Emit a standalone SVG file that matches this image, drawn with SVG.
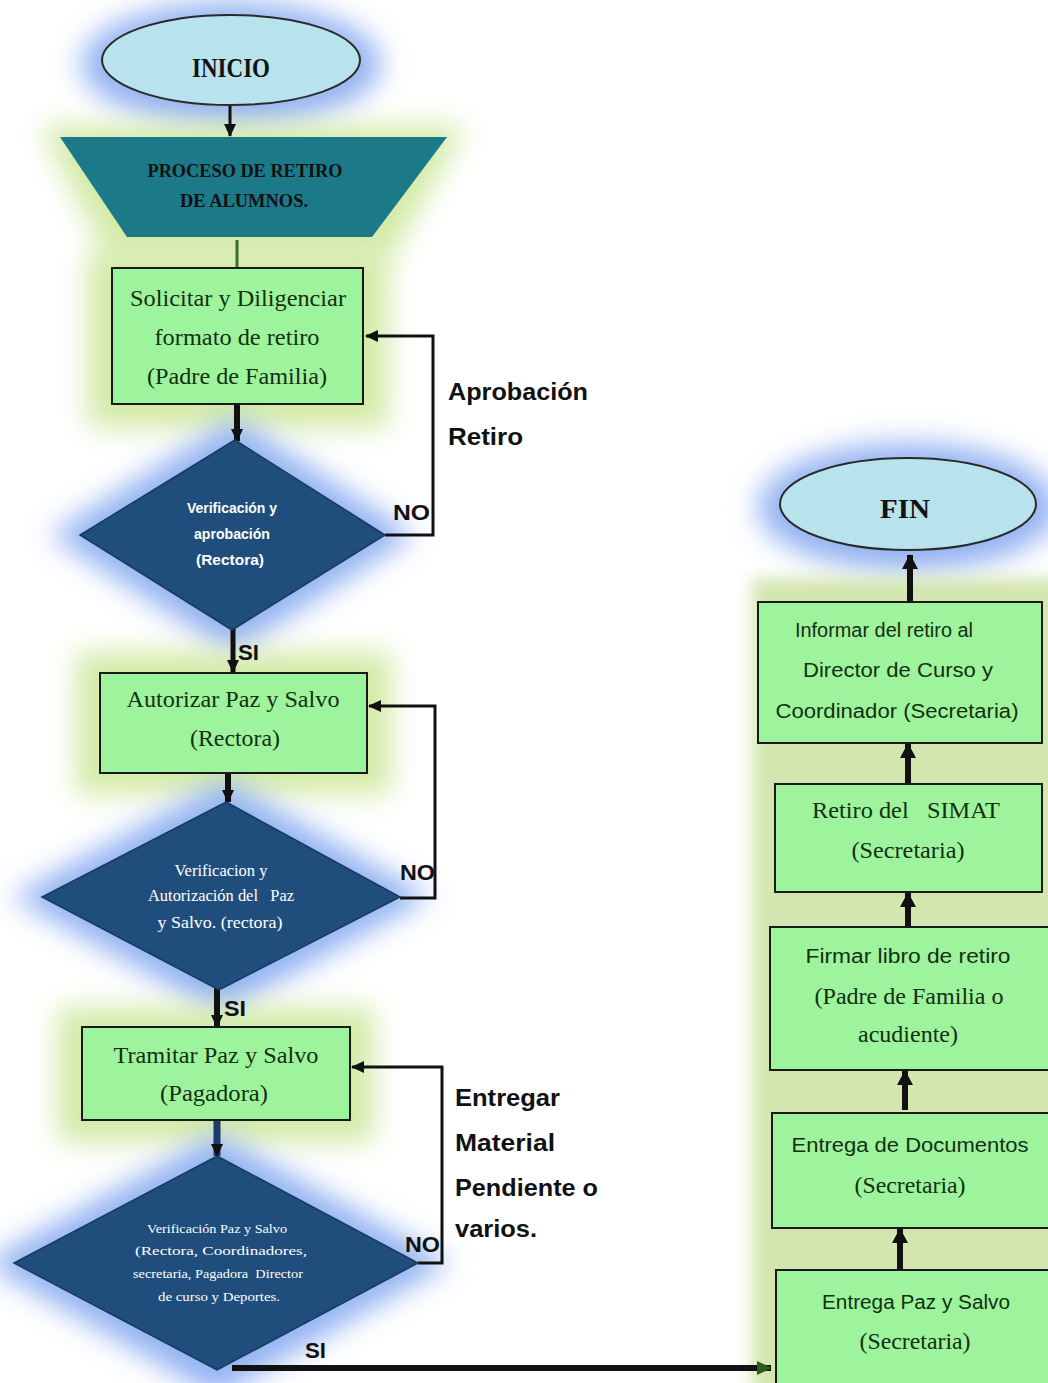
<svg xmlns="http://www.w3.org/2000/svg" width="1048" height="1383" viewBox="0 0 1048 1383">
<defs>
<filter id="blur" x="-50%" y="-50%" width="200%" height="200%"><feGaussianBlur stdDeviation="14"/></filter>
<filter id="blurS" x="-20%" y="-20%" width="140%" height="140%"><feGaussianBlur stdDeviation="8"/></filter>
<marker id="ah" markerUnits="userSpaceOnUse" markerWidth="14" markerHeight="14" refX="12" refY="7" orient="auto"><path d="M0,1 L13,7 L0,13 z" fill="#111"/></marker>
<marker id="ahb" markerUnits="userSpaceOnUse" markerWidth="18" markerHeight="18" refX="14" refY="9" orient="auto"><path d="M0,1 L15,9 L0,17 z" fill="#111"/></marker>
<marker id="ahg" markerUnits="userSpaceOnUse" markerWidth="18" markerHeight="18" refX="14" refY="9" orient="auto"><path d="M0,2 L15,9 L0,16 z" fill="#2f5a1c"/></marker>
</defs>
<style>
.gg{fill:#d2eaa6;filter:url(#blur)}
.bg{fill:#93b2f2;filter:url(#blur)}
.box{fill:#9ef49c;stroke:#1a1a1a;stroke-width:2}
.dia{fill:#1f4e7d;stroke:#173a5e;stroke-width:1.5}
.ell{fill:#b9e3ec;stroke:#2a2a2a;stroke-width:2}
.ts{font-family:"Liberation Serif",serif;font-size:23px;fill:#12300f;text-anchor:middle}
.tc{font-family:"Liberation Sans",sans-serif;font-size:20px;fill:#12300f;text-anchor:middle}
.dw{font-family:"Liberation Sans",sans-serif;font-weight:bold;font-size:14px;fill:#ffffff;text-anchor:middle}
.dsf{font-family:"Liberation Serif",serif;fill:#ffffff;text-anchor:middle}
.lbl{font-family:"Liberation Sans",sans-serif;font-weight:bold;font-size:23px;fill:#111}
.yn{font-family:"Liberation Sans",sans-serif;font-weight:bold;font-size:22px;fill:#111}
.ttl{font-family:"Liberation Serif",serif;font-weight:bold;fill:#111;text-anchor:middle}
.c{fill:none;stroke:#111}
</style>
<rect width="1048" height="1383" fill="#ffffff"/>
<g id="glows">
<ellipse cx="231" cy="64" rx="150" ry="62" class="bg"/>
<polygon points="40,126 466,126 390,258 108,258" class="gg"/>
<rect x="88" y="250" width="300" height="178" class="gg"/>
<polygon points="235,418 414,535 232,654 50,535" class="bg"/>
<rect x="76" y="652" width="315" height="142" class="gg"/>
<polygon points="225,780 430,897 220,1014 12,897" class="bg"/>
<rect x="58" y="1008" width="316" height="134" class="gg"/>
<polygon points="217,1134 450,1263 217,1397 -16,1263" class="bg"/>
<ellipse cx="908" cy="507" rx="150" ry="64" class="bg"/>
<rect x="752" y="578" width="320" height="830" fill="#d3e6b0" filter="url(#blurS)"/>
</g>
<g id="connectors">
<line x1="230" y1="104" x2="230" y2="136" class="c" stroke-width="3" marker-end="url(#ah)"/>
<line x1="237" y1="240" x2="237" y2="268" stroke="#3b6e2a" stroke-width="3"/>
<line x1="237" y1="404" x2="237" y2="441" class="c" stroke-width="6" marker-end="url(#ah)"/>
<polyline points="385,535 433,535 433,336 366,336" class="c" stroke-width="3" marker-end="url(#ah)"/>
<line x1="233" y1="628" x2="233" y2="672" class="c" stroke-width="5" marker-end="url(#ah)"/>
<line x1="228" y1="773" x2="228" y2="802" class="c" stroke-width="6" marker-end="url(#ah)"/>
<polyline points="400,898 435,898 435,706 369,706" class="c" stroke-width="3" marker-end="url(#ah)"/>
<line x1="217" y1="988" x2="217" y2="1027" class="c" stroke-width="6" marker-end="url(#ah)"/>
<line x1="217" y1="1120" x2="217" y2="1156" stroke="#1f3a66" stroke-width="7" fill="none" marker-end="url(#ah)"/>
<polyline points="418,1263 442,1263 442,1067 352,1067" class="c" stroke-width="3" marker-end="url(#ah)"/>
<line x1="232" y1="1368" x2="771" y2="1368" class="c" stroke-width="6" marker-end="url(#ahg)"/>
<line x1="900" y1="1270" x2="900" y2="1229" class="c" stroke-width="6" marker-end="url(#ahb)"/>
<line x1="905" y1="1110" x2="905" y2="1071" class="c" stroke-width="6" marker-end="url(#ahb)"/>
<line x1="908" y1="927" x2="908" y2="893" class="c" stroke-width="6" marker-end="url(#ahb)"/>
<line x1="908" y1="784" x2="908" y2="744" class="c" stroke-width="6" marker-end="url(#ahb)"/>
<line x1="910" y1="601" x2="910" y2="555" class="c" stroke-width="6" marker-end="url(#ahb)"/>
</g>
<g id="labels">
<text class="lbl" x="448" y="400" textLength="140" lengthAdjust="spacingAndGlyphs">Aprobación</text>
<text class="lbl" x="448" y="445" textLength="75" lengthAdjust="spacingAndGlyphs">Retiro</text>
<text class="lbl" x="455" y="1106" textLength="105" lengthAdjust="spacingAndGlyphs">Entregar</text>
<text class="lbl" x="455" y="1151" textLength="100" lengthAdjust="spacingAndGlyphs">Material</text>
<text class="lbl" x="455" y="1196" textLength="143" lengthAdjust="spacingAndGlyphs">Pendiente o</text>
<text class="lbl" x="455" y="1237" textLength="82" lengthAdjust="spacingAndGlyphs">varios.</text>
<text class="yn" x="393" y="520" textLength="37" lengthAdjust="spacingAndGlyphs">NO</text>
<text class="yn" x="400" y="880" textLength="35" lengthAdjust="spacingAndGlyphs">NO</text>
<text class="yn" x="405" y="1252" textLength="35" fill="#1f3a66" lengthAdjust="spacingAndGlyphs">NO</text>
<text class="yn" x="238" y="660" textLength="21" lengthAdjust="spacingAndGlyphs">SI</text>
<text class="yn" x="224" y="1016" textLength="22" lengthAdjust="spacingAndGlyphs">SI</text>
<text class="yn" x="305" y="1358" textLength="21" lengthAdjust="spacingAndGlyphs">SI</text>
</g>
<g id="inicio">
<ellipse cx="231" cy="60" rx="129" ry="45" class="ell"/>
<text class="ttl" x="231" y="77" font-size="27" textLength="78" lengthAdjust="spacingAndGlyphs">INICIO</text>
</g>
<g id="proceso">
<polygon points="60,137 447,137 372,237 127,237" fill="#1c7987"/>
<text class="ttl" x="245" y="177" font-size="19" textLength="195" lengthAdjust="spacingAndGlyphs">PROCESO DE RETIRO</text>
<text class="ttl" x="244" y="207" font-size="19" textLength="128" lengthAdjust="spacingAndGlyphs">DE ALUMNOS.</text>
</g>
<g id="solicitar">
<rect x="112" y="268" width="251" height="136" class="box"/>
<text class="ts" x="238" y="306" textLength="216" lengthAdjust="spacingAndGlyphs">Solicitar y Diligenciar</text>
<text class="ts" x="237" y="345" textLength="165" lengthAdjust="spacingAndGlyphs">formato de retiro</text>
<text class="ts" x="237" y="384" textLength="180" lengthAdjust="spacingAndGlyphs">(Padre de Familia)</text>
</g>
<g id="verif1">
<polygon points="235,440 385,535 232,630 80,535" class="dia"/>
<text class="dw" x="232" y="513" textLength="90" lengthAdjust="spacingAndGlyphs">Verificación y</text>
<text class="dw" x="232" y="539" textLength="76" lengthAdjust="spacingAndGlyphs">aprobación</text>
<text class="dw" x="230" y="565" textLength="68" lengthAdjust="spacingAndGlyphs">(Rectora)</text>
</g>
<g id="autorizar">
<rect x="100" y="673" width="267" height="100" class="box"/>
<text class="ts" x="233" y="707" textLength="213" lengthAdjust="spacingAndGlyphs">Autorizar Paz y Salvo</text>
<text class="ts" x="235" y="746" textLength="90" lengthAdjust="spacingAndGlyphs">(Rectora)</text>
</g>
<g id="verif2">
<polygon points="226,802 400,897 219,990 42,897" class="dia"/>
<text class="dsf" x="221" y="876" font-size="17" textLength="93" lengthAdjust="spacingAndGlyphs">Verificacion y</text>
<text class="dsf" x="221" y="901" font-size="17" textLength="146" lengthAdjust="spacingAndGlyphs" xml:space="preserve">Autorización del   Paz</text>
<text class="dsf" x="220" y="928" font-size="17" textLength="125" lengthAdjust="spacingAndGlyphs">y Salvo. (rectora)</text>
</g>
<g id="tramitar">
<rect x="82" y="1027" width="268" height="93" class="box"/>
<text class="ts" x="216" y="1063" textLength="205" lengthAdjust="spacingAndGlyphs">Tramitar Paz y Salvo</text>
<text class="ts" x="214" y="1101" textLength="108" lengthAdjust="spacingAndGlyphs">(Pagadora)</text>
</g>
<g id="verif3">
<polygon points="217,1156 418,1263 217,1370 14,1263" class="dia"/>
<text class="dsf" x="217" y="1233" font-size="13" textLength="140" lengthAdjust="spacingAndGlyphs">Verificación Paz y Salvo</text>
<text class="dsf" x="221" y="1255" font-size="13" textLength="172" lengthAdjust="spacingAndGlyphs">(Rectora, Coordinadores,</text>
<text class="dsf" x="218" y="1278" font-size="13" textLength="170" lengthAdjust="spacingAndGlyphs" xml:space="preserve">secretaria, Pagadora  Director</text>
<text class="dsf" x="219" y="1301" font-size="13" textLength="122" lengthAdjust="spacingAndGlyphs">de curso y Deportes.</text>
</g>
<g id="entregaPaz">
<rect x="776" y="1270" width="280" height="130" class="box"/>
<text class="tc" x="916" y="1309" textLength="188" lengthAdjust="spacingAndGlyphs">Entrega Paz y Salvo</text>
<text class="ts" x="915" y="1349" textLength="111" lengthAdjust="spacingAndGlyphs">(Secretaria)</text>
</g>
<g id="entregaDoc">
<rect x="772" y="1113" width="284" height="115" class="box"/>
<text class="tc" x="910" y="1152" textLength="237" lengthAdjust="spacingAndGlyphs">Entrega de Documentos</text>
<text class="ts" x="910" y="1193" textLength="111" lengthAdjust="spacingAndGlyphs">(Secretaria)</text>
</g>
<g id="firmar">
<rect x="770" y="927" width="286" height="143" class="box"/>
<text class="tc" x="908" y="963" textLength="205" lengthAdjust="spacingAndGlyphs">Firmar libro de retiro</text>
<text class="ts" x="909" y="1004" textLength="189" lengthAdjust="spacingAndGlyphs">(Padre de Familia o</text>
<text class="ts" x="908" y="1042" textLength="100" lengthAdjust="spacingAndGlyphs">acudiente)</text>
</g>
<g id="simat">
<rect x="775" y="784" width="267" height="108" class="box"/>
<text class="ts" x="906" y="818" textLength="188" lengthAdjust="spacingAndGlyphs" xml:space="preserve">Retiro del   SIMAT</text>
<text class="ts" x="908" y="858" textLength="113" lengthAdjust="spacingAndGlyphs">(Secretaria)</text>
</g>
<g id="informar">
<rect x="758" y="602" width="284" height="141" class="box"/>
<text class="tc" x="884" y="637" textLength="178" lengthAdjust="spacingAndGlyphs">Informar del retiro al</text>
<text class="tc" x="898" y="677" textLength="190" lengthAdjust="spacingAndGlyphs">Director de Curso y</text>
<text class="tc" x="897" y="718" textLength="243" lengthAdjust="spacingAndGlyphs">Coordinador (Secretaria)</text>
</g>
<g id="fin">
<ellipse cx="908" cy="504" rx="128" ry="46" class="ell"/>
<text class="ttl" x="905" y="518" font-size="27" textLength="50" lengthAdjust="spacingAndGlyphs">FIN</text>
</g>
</svg>
